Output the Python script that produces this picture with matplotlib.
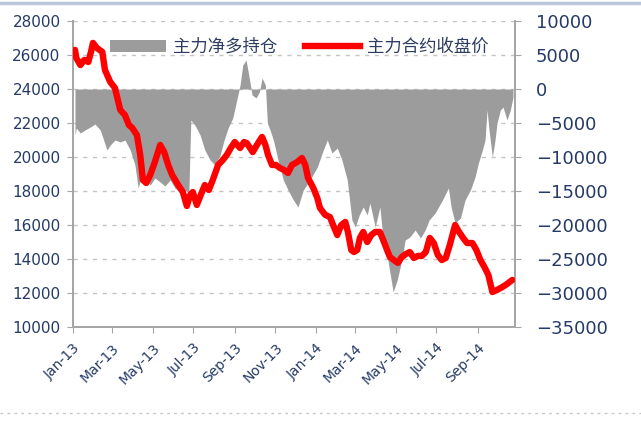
import matplotlib
matplotlib.use("Agg")
import matplotlib.pyplot as plt
import matplotlib.dates as mdates
from matplotlib.patches import Patch
from matplotlib.lines import Line2D
import pandas as pd

# ---- data: main contract closing price (left axis) ----
price_dates = [
    "2013-01-04", "2013-01-06", "2013-01-12", "2013-01-18", "2013-01-24", "2013-01-28",
    "2013-01-31", "2013-02-06", "2013-02-14", "2013-02-18", "2013-02-26", "2013-03-05",
    "2013-03-13", "2013-03-20", "2013-03-26", "2013-03-31", "2013-04-07", "2013-04-12",
    "2013-04-16", "2013-04-21", "2013-04-27", "2013-05-04", "2013-05-12", "2013-05-18",
    "2013-05-24", "2013-05-30", "2013-06-08", "2013-06-15", "2013-06-21", "2013-06-26",
    "2013-06-30", "2013-07-06", "2013-07-12", "2013-07-18", "2013-07-24", "2013-07-30",
    "2013-08-07", "2013-08-14", "2013-08-20", "2013-08-26", "2013-09-01", "2013-09-09",
    "2013-09-15", "2013-09-19", "2013-09-24", "2013-09-28", "2013-10-06", "2013-10-12",
    "2013-10-17", "2013-10-21", "2013-10-27", "2013-11-02", "2013-11-08", "2013-11-14",
    "2013-11-20", "2013-11-26", "2013-12-04", "2013-12-11", "2013-12-16", "2013-12-20",
    "2013-12-28", "2014-01-03", "2014-01-07", "2014-01-15", "2014-01-22", "2014-01-28",
    "2014-02-02", "2014-02-08", "2014-02-14", "2014-02-18", "2014-02-23", "2014-02-27",
    "2014-03-04", "2014-03-08", "2014-03-13", "2014-03-19", "2014-03-25", "2014-03-31",
    "2014-04-07", "2014-04-12", "2014-04-16", "2014-04-22", "2014-04-28", "2014-05-04",
    "2014-05-10", "2014-05-16", "2014-05-22", "2014-05-28", "2014-06-03", "2014-06-09",
    "2014-06-15", "2014-06-21", "2014-06-27", "2014-07-03", "2014-07-09", "2014-07-15",
    "2014-07-21", "2014-07-29", "2014-08-04", "2014-08-10", "2014-08-16", "2014-08-24",
    "2014-08-30", "2014-09-05", "2014-09-11", "2014-09-17", "2014-09-23", "2014-09-30",
    "2014-10-08", "2014-10-15", "2014-10-23",
]
price_values = [
    26300, 25820, 25410, 25710, 25590, 26180,
    26710, 26410, 26180, 25120, 24410, 24060,
    22770, 22470, 21880, 21710, 21290, 20120,
    18650, 18470, 18940, 19710, 20710, 20290,
    19530, 18940, 18350, 17940, 17120, 17770,
    17940, 17180, 17770, 18350, 18060, 18650,
    19530, 19820, 20120, 20530, 20880, 20530,
    20880, 20820, 20530, 20290, 20820, 21180,
    20710, 20120, 19530, 19530, 19350, 19240,
    19060, 19530, 19710, 19940, 19530, 18770,
    18180, 17590, 17000, 16590, 16470, 15880,
    15410, 16000, 16180, 15590, 14530, 14410,
    14530, 15240, 15590, 15000, 15410, 15590,
    15590, 15120, 14710, 14120, 13940, 13770,
    14120, 14290, 14410, 14060, 14180, 14180,
    14410, 15240, 14940, 14240, 13940, 14060,
    14820, 16000, 15590, 15240, 14940, 14940,
    14530, 13940, 13530, 13060, 12060, 12180,
    12350, 12530, 12770,
]

# ---- data: main players' net long position (right axis) ----
pos_dates = [
    "2013-01-04", "2013-01-06", "2013-01-12", "2013-01-19", "2013-01-27", "2013-02-03",
    "2013-02-11", "2013-02-15", "2013-02-21", "2013-02-26", "2013-03-05", "2013-03-13",
    "2013-03-20", "2013-03-28", "2013-04-04", "2013-04-09", "2013-04-15", "2013-04-21",
    "2013-04-27", "2013-05-04", "2013-05-12", "2013-05-19", "2013-05-27", "2013-06-03",
    "2013-06-11", "2013-06-18", "2013-06-24", "2013-06-27", "2013-07-03", "2013-07-11",
    "2013-07-18", "2013-07-26", "2013-08-02", "2013-08-10", "2013-08-16", "2013-08-22",
    "2013-08-29", "2013-09-04", "2013-09-09", "2013-09-13", "2013-09-18", "2013-09-22",
    "2013-09-27", "2013-10-03", "2013-10-08", "2013-10-12", "2013-10-17", "2013-10-20",
    "2013-10-24", "2013-10-29", "2013-11-05", "2013-11-13", "2013-11-20", "2013-11-28",
    "2013-12-05", "2013-12-13", "2013-12-23", "2014-01-03", "2014-01-12", "2014-01-18",
    "2014-01-25", "2014-02-02", "2014-02-09", "2014-02-17", "2014-02-24", "2014-03-01",
    "2014-03-07", "2014-03-13", "2014-03-19", "2014-03-23", "2014-03-31", "2014-04-07",
    "2014-04-12", "2014-04-19", "2014-04-27", "2014-05-03", "2014-05-10", "2014-05-15",
    "2014-05-22", "2014-05-30", "2014-06-07", "2014-06-14", "2014-06-20", "2014-06-29",
    "2014-07-10", "2014-07-19", "2014-07-23", "2014-07-29", "2014-08-06", "2014-08-13",
    "2014-08-21", "2014-08-28", "2014-09-02", "2014-09-08", "2014-09-12", "2014-09-15",
    "2014-09-18", "2014-09-23", "2014-09-27", "2014-09-30", "2014-10-05", "2014-10-09",
    "2014-10-15", "2014-10-20", "2014-10-24",
]
pos_values = [
    -6770, -5740, -6470, -6030, -5590, -5150,
    -6030, -7210, -8970, -8240, -7500, -7790,
    -7500, -8970, -11180, -14560, -12210, -13380,
    -14120, -13090, -13680, -14270, -13380, -14560,
    -15150, -14850, -15290, -4560, -5290, -6770,
    -8970, -10440, -11180, -9710, -7500, -5740,
    -4270, -1620, 590, 3530, 4270, 2060,
    -880, -1320, -440, 1620, 590, -5000,
    -6030, -7500, -10440, -13380, -14850, -16320,
    -17350, -14850, -13380, -11470, -8970, -7500,
    -9410, -8680, -10440, -13380, -19270, -20290,
    -18530, -17350, -18530, -16770, -20290, -17350,
    -22210, -25150, -29850, -28090, -25150, -22210,
    -21770, -20740, -21910, -20740, -19270, -18240,
    -16320, -14560, -17350, -19710, -18970, -16320,
    -14850, -12940, -10880, -8970, -7500, -3090,
    -6030, -10000, -7500, -5000, -3090, -2650,
    -4560, -3090, -1180,
]

price_dt = pd.to_datetime(price_dates)
pos_dt = pd.to_datetime(pos_dates)

NAVY = "#253a66"
GRID = "#c4c4c4"
AXIS = "#a6a6a6"

fig = plt.figure(figsize=(6.41, 4.21), dpi=100)
fig.patch.set_facecolor("white")
ax = fig.add_axes([73 / 641, 1 - 327 / 421, (515 - 73) / 641, (327 - 21) / 421])
ax2 = ax.twinx()

# area (right axis) drawn behind the line
ax2.fill_between(pos_dt, 0, pos_values, color="#9c9c9c", linewidth=0, zorder=1)
ax2.set_ylim(-35000, 10000)
ax2.set_yticks(range(-35000, 10001, 5000))

ax.set_zorder(ax2.get_zorder() + 1)
ax.patch.set_visible(False)
ax.plot(price_dt, price_values, color="#ff0000", linewidth=4.6, solid_capstyle="round",
        solid_joinstyle="round", zorder=3)
ax.set_ylim(10000, 28000)
ax.set_yticks(range(10000, 28001, 2000))

# horizontal grid (for the left axis ticks), drawn behind the area
ax2.set_axisbelow(True)
for v in range(10000, 28001, 2000):
    y2 = -35000 + (v - 10000) / 18000 * 45000
    ax2.axhline(y2, color=GRID, linewidth=1.0, linestyle=(0, (3, 4)), zorder=0)

ax.set_xlim(pd.Timestamp("2013-01-01"), pd.Timestamp("2014-10-27"))
ax.xaxis.set_major_locator(mdates.MonthLocator(bymonth=[1, 3, 5, 7, 9, 11]))
ax.xaxis.set_major_formatter(mdates.DateFormatter("%b-%y"))

for a in (ax, ax2):
    for s in a.spines.values():
        s.set_color(AXIS)
        s.set_linewidth(1.4)
    a.spines["top"].set_visible(False)

ax.tick_params(axis="y", colors=AXIS, labelcolor=NAVY, labelsize=11, length=4, pad=5)
ax2.tick_params(axis="y", colors=AXIS, labelcolor=NAVY, labelsize=13, length=4, pad=11)
ax.tick_params(axis="x", colors=AXIS, labelcolor=NAVY, labelsize=10, length=4, pad=6)
for lab in ax.get_xticklabels():
    lab.set_rotation(45)
    lab.set_ha("right")
    lab.set_rotation_mode("anchor")

handles = [Patch(facecolor="#9c9c9c", edgecolor="none"),
           Line2D([0], [0], color="#ff0000", linewidth=4.6)]
labels = ["主力净多持仓", "主力合约收盘价"]
leg = fig.legend(handles, labels, loc="upper left",
                 bbox_to_anchor=(110 / 641, 1 - 38 / 421), ncol=2, frameon=False,
                 prop={"family": ["Noto Sans CJK SC", "DejaVu Sans"], "size": 12.5},
                 handlelength=3.2, handletextpad=0.4, columnspacing=1.6,
                 borderpad=0, borderaxespad=0)
for t in leg.get_texts():
    t.set_color("#2d3d60")

# decorative frame lines
fig.add_artist(Line2D([0, 1], [1 - 3 / 421, 1 - 3 / 421], transform=fig.transFigure,
                      color="#b9c9da", linewidth=2.5))
fig.add_artist(Line2D([0, 1], [1 - 413 / 421, 1 - 413 / 421], transform=fig.transFigure,
                      color="#c8c8c8", linewidth=1, linestyle=(0, (2, 3))))

fig.savefig("out.png", dpi=100, facecolor="white")
